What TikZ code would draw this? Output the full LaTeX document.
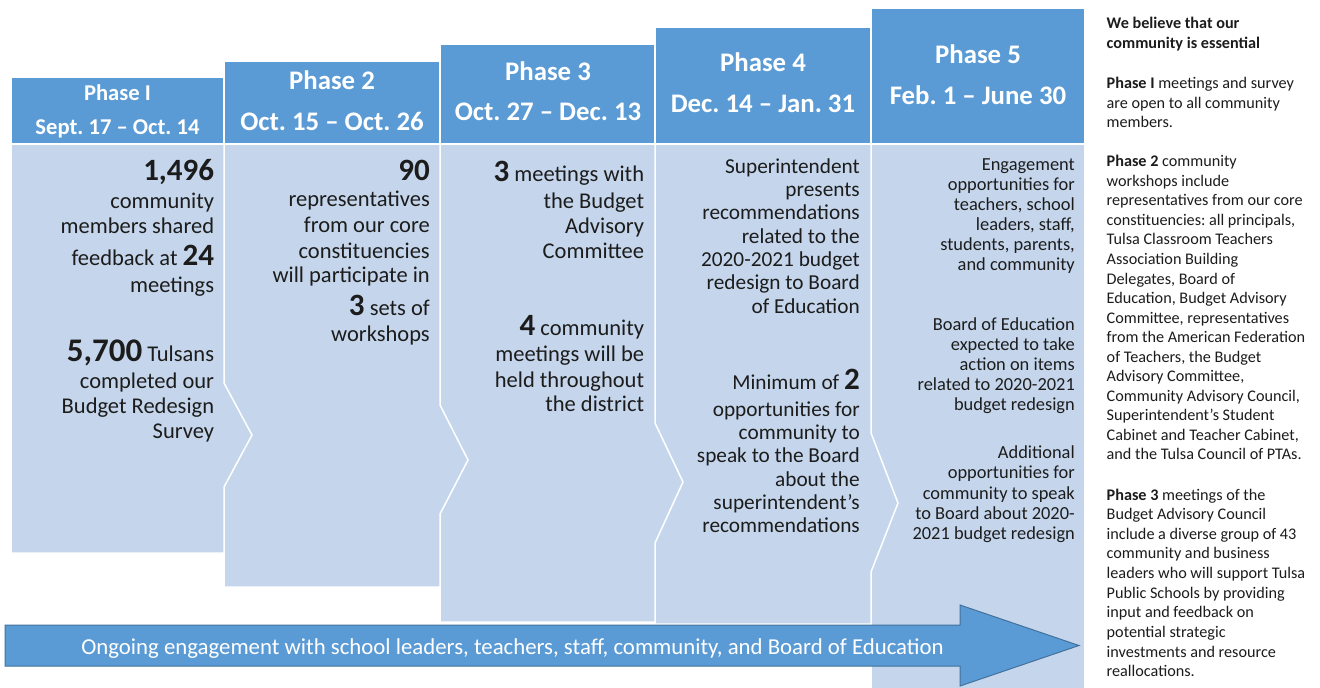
\documentclass[tikz,border=0pt]{standalone}
\usepackage{fontspec}
\setmainfont{Carlito}
\definecolor{hblue}{RGB}{91,155,213}
\definecolor{lblue}{RGB}{197,214,236}
\definecolor{abord}{RGB}{65,113,156}
\definecolor{txt}{RGB}{28,28,28}
\newcommand\bignum[1]{{\fontsize{31}{31}\selectfont\bfseries #1}}
\newcommand\bigNum[1]{{\fontsize{33}{33}\selectfont\bfseries #1}}
\newcommand\ylines[4]{\foreach \ya/\tx [count=\nn] in {#4}{\node[#3] (#1\nn) at (#2,\ya) {\tx};}}
\newcommand\plines[5]{\foreach \tx [count=\nn from 0] in {#5}{\node[lline] (#1\nn) at (#2,{#3+\nn*#4}) {\tx};}}
\frenchspacing
\begin{document}
\frenchspacing
\begin{tikzpicture}[x=1pt,y=-1pt,
  every node/.append style={execute at begin node=\frenchspacing},
  hdr/.style={fill=hblue,draw=white,line width=1.5pt},
  bodyc/.style={fill=lblue,draw=white,line width=1.5pt,line join=miter},
  rline/.style={anchor=base east,inner sep=0pt,text=txt},
  lline/.style={anchor=base west,inner sep=0pt,text=txt,font=\fontsize{16.2}{19.6}\selectfont},
  htxt/.style={anchor=base,inner sep=0pt,text=white,font=\bfseries\fontsize{26.8}{30}\selectfont},
  htxtsmall/.style={htxt,font=\bfseries\fontsize{22.6}{26}\selectfont},
]
\useasboundingbox (0,0) rectangle (1320,688);
\fill[white] (0,0) rectangle (1320,688);
% bodies (right to left so chevrons overlap)
\path[bodyc] (871,144) -- (1085,144) -- (1085,692) -- (871,692) -- cycle;
\path[bodyc] (655,144) -- (871,144) -- (871,433) -- (898,503) -- (871,572) -- (871,624) -- (655,624) -- cycle;
\path[bodyc] (440,144) -- (655,144) -- (655,423) -- (683,482) -- (655,543) -- (655,622) -- (440,622) -- cycle;
\path[bodyc] (224,144) -- (440,144) -- (440,405) -- (468,460) -- (440,514) -- (440,587) -- (224,587) -- cycle;
\path[bodyc] (11,144) -- (224,144) -- (224,383) -- (252,435) -- (224,487) -- (224,553) -- (11,553) -- cycle;
% headers
\path[hdr] (11,77) rectangle (224,144);
\path[hdr] (224,61) rectangle (440,144);
\path[hdr] (440,44) rectangle (655,144);
\path[hdr] (655,27) rectangle (871,144);
\path[hdr] (871,8) rectangle (1085,144);
% header texts
\node[htxtsmall] (h1a) at (117.5,100) {Phase I};
\node[htxtsmall] (h1b) at (117.5,134) {Sept. 17 – Oct. 14};
\node[htxt] (h2a) at (332,89.3) {Phase 2};
\node[htxt] (h2b) at (332,130) {Oct. 15 – Oct. 26};
\node[htxt] (h3a) at (548,80.7) {Phase 3};
\node[htxt] (h3b) at (548,120.7) {Oct. 27 – Dec. 13};
\node[htxt] (h4a) at (763,71.7) {Phase 4};
\node[htxt] (h4b) at (763,112.7) {Dec. 14 – Jan. 31};
\node[htxt] (h5a) at (978,63.3) {Phase 5};
\node[htxt] (h5b) at (978,104) {Feb. 1 – June 30};
% column 1
\ylines{c1l}{214.3}{rline,font=\fontsize{22.5}{25}\selectfont}{180/\bignum{1,496},208.3/community,233.3/members shared,265/feedback at \bignum{24},292.7/meetings,361.7/\bigNum{5,700} Tulsans,388.3/completed our,413.3/Budget Redesign,438.3/Survey}
% column 2
\ylines{c2l}{430}{rline,font=\fontsize{22.5}{25}\selectfont}{180/\bignum{90},206.7/representatives,232.7/from our core,258.3/constituencies,282.7/will participate in,315/\bignum{3} sets of,341.7/workshops}
% column 3
\ylines{c3l}{644.3}{rline,font=\fontsize{22.5}{25}\selectfont}{181.7/\bignum{3} meetings with,208.3/the Budget,233.3/Advisory,258.3/Committee,335/\bignum{4} community,361.7/meetings will be,387.3/held throughout,411.7/the district}
% column 4
\ylines{c4l}{860}{rline,font=\fontsize{21.3}{23}\selectfont}{173.3/Superintendent,196.6/presents,219.9/recommendations,243.2/related to the,266.5/2020-2021 budget,289.8/redesign to Board,313.1/of Education,389.3/Minimum of \bignum{2},416/opportunities for,439.3/community to,462.7/speak to the Board,486/about the,509.3/superintendent’s,532.7/recommendations}
% column 5
\ylines{c5l}{1075}{rline,font=\fontsize{18.4}{20}\selectfont}{170/Engagement,190.1/opportunities for,210.2/{teachers, school},230.3/{leaders, staff,},250.4/{students, parents,},270.5/and community,330/Board of Education,350.2/expected to take,370.4/action on items,390.6/related to 2020-2021,410.8/budget redesign,458.3/Additional,478.7/opportunities for,499.1/community to speak,519.5/to Board about 2020-,539.9/2021 budget redesign}
% arrow
\path[fill=hblue,draw=abord,line width=1pt] (5,625) -- (960,625) -- (960,605) -- (1079,645.5) -- (960,686) -- (960,666) -- (5,666) -- cycle;
\node[anchor=base,inner sep=0pt,text=white,font=\fontsize{22.8}{24}\selectfont] (ongoing) at (512.5,654) {Ongoing engagement with school leaders, teachers, staff, community, and Board of Education};
% right column
\plines{pa}{1106.5}{28.3}{20}{\textbf{We believe that our},\textbf{community is essential}}
\plines{pb}{1106.5}{88.3}{19.7}{\textbf{Phase I} meetings and survey,are open to all community,members.}
\plines{pc}{1106.5}{166.7}{19.55}{\textbf{Phase 2} community,workshops include,representatives from our core,{constituencies: all principals,},Tulsa Classroom Teachers,Association Building,{Delegates, Board of},{Education, Budget Advisory},{Committee, representatives},from the American Federation,{of Teachers, the Budget},{Advisory Committee,},{Community Advisory Council,},Superintendent’s Student,{Cabinet and Teacher Cabinet,},and the Tulsa Council of PTAs.}
\plines{pd}{1106.5}{500}{19.63}{\textbf{Phase 3} meetings of the,Budget Advisory Council,include a diverse group of 43,community and business,leaders who will support Tulsa,Public Schools by providing,input and feedback on,potential strategic,investments and resource,reallocations.}
\end{tikzpicture}
\end{document}
